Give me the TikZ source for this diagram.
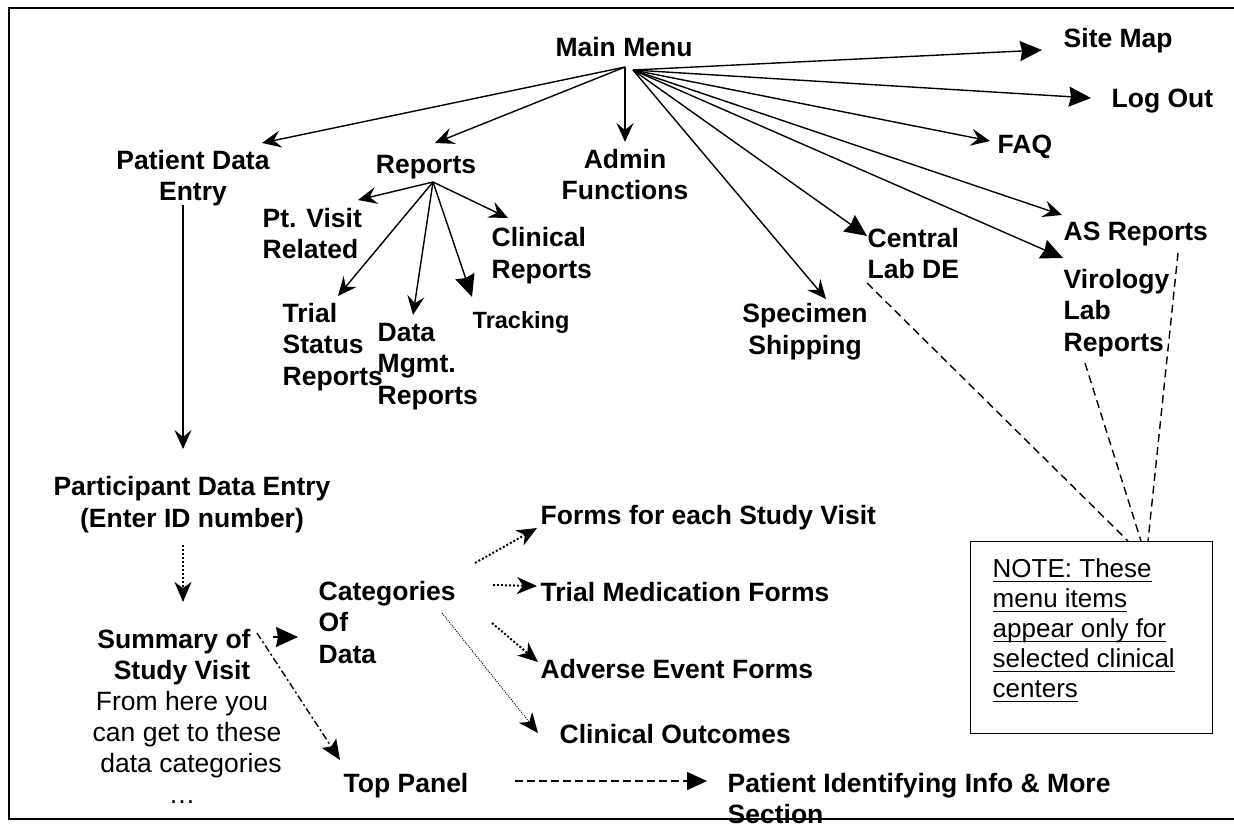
\documentclass[tikz,border=0pt]{standalone}
\usepackage{fontspec}
\setmainfont{Liberation Sans}
\usetikzlibrary{arrows.meta,calc}
\newcommand{\noteul}[1]{\setbox0\hbox{#1}\rlap{\vrule height -3.5pt depth 5pt width \wd0}\box0}
\begin{document}
\begin{tikzpicture}[x=1pt,y=-1pt, line width=1.4pt,
  lbl/.style={inner sep=0pt, font=\fontsize{26.5}{31.5}\selectfont\bfseries},
  st/.style={-{Stealth[length=19pt,width=17pt,inset=7pt]}},
  tr/.style={-{Stealth[length=22pt,width=20pt,inset=2pt]}},
  thickdot/.style={line width=2pt, dash pattern=on 2pt off 2pt},
  finedot/.style={line width=0.9pt, dash pattern=on 1pt off 1.3pt},
  dashdot/.style={dash pattern=on 7pt off 3pt on 2pt off 3pt},
  dashline/.style={dash pattern=on 8pt off 4pt},
  notedash/.style={dash pattern=on 8pt off 5pt}]
\useasboundingbox (0,0) rectangle (1234,823);
\fill[white] (0,0) rectangle (1234,823);
% frame
\draw[line width=2pt] (9,8) rectangle (1250,819);

% nodes (base anchor = baseline of the last line)
\node[lbl, anchor=base] (mm) at (624,56) {Main Menu};
\node[lbl, anchor=base, align=center] (pde) at (193,200.5) {Patient Data\\Entry};
\node[lbl, anchor=base] (rep) at (426,173) {Reports};
\node[lbl, anchor=base, align=center] (adm) at (625,199.5) {Admin\\Functions};
\node[lbl, anchor=base west, align=left] (ptv) at (262,258.5) {Pt. Visit\\Related};
\node[lbl, anchor=base west, align=left] (trial) at (282,385) {Trial\\Status\\Reports};
\node[lbl, anchor=base west, align=left] (dmg) at (377,404) {Data\\Mgmt.\\Reports};
\node[lbl, anchor=base west, font=\fontsize{23.5}{28}\selectfont\bfseries] (trk) at (472,328) {Tracking};
\node[lbl, anchor=base west, align=left] (clin) at (491,278) {Clinical\\Reports};
\node[lbl, anchor=base, align=center] (spec) at (805,354) {Specimen\\Shipping};
\node[lbl, anchor=base west, align=left] (cen) at (867,278.5) {Central\\Lab DE};
\node[lbl, anchor=base west] (site) at (1063,47) {Site Map};
\node[lbl, anchor=base west] (lo) at (1111,107) {Log Out};
\node[lbl, anchor=base west] (faq) at (997,153) {FAQ};
\node[lbl, anchor=base west] (asr) at (1063,240) {AS Reports};
\node[lbl, anchor=base west, align=left] (vir) at (1063,351) {Virology\\Lab\\Reports};
\node[lbl, anchor=base, align=center] (pden) at (192,527) {Participant Data Entry\\(Enter ID number)};
\node[lbl, anchor=base, align=center, font=\fontsize{26.5}{31}\selectfont\bfseries] (sum) at (182,803) {Summary of\hspace*{16pt}\\Study Visit\hspace*{16pt}\\\mdseries From here you\\\mdseries\hspace*{10pt}can get to these\\\mdseries\hspace*{18pt}data categories\\\mdseries \dots};
\node[lbl, anchor=base west, align=left] (cat) at (318,663) {Categories\\Of\\Data};
\node[lbl, anchor=base west] (top) at (343,792) {Top Panel};
\node[lbl, anchor=base west] (forms) at (540,524) {Forms for each Study Visit};
\node[lbl, anchor=base west] (tmf) at (540,601) {Trial Medication Forms};
\node[lbl, anchor=base west] (aef) at (540,678) {Adverse Event Forms};
\node[lbl, anchor=base west] (co) at (559,743) {Clinical Outcomes};
\node[lbl, anchor=base west, align=left] (pii) at (727,823.5) {Patient Identifying Info \& More\\Section};
\node[draw, line width=1.4pt, inner sep=0pt, minimum width=242pt, minimum height=192pt, anchor=north west] (note) at (970,541) {};
\node[inner sep=0pt, anchor=base west, align=left, font=\fontsize{26}{30}\selectfont] (notetxt) at (992,697)
  {\noteul{NOTE: These}\\\noteul{menu items}\\\noteul{appear only for}\\\noteul{selected clinical}\\\noteul{centers}};

% connector points
\coordinate (mmA) at (625,67);
\coordinate (mmB) at (633,70);
\coordinate (pdeIn) at (262,143);
\coordinate (repIn) at (435,143);
\coordinate (admIn) at (625,142);
\coordinate (siteIn) at (1042,50);
\coordinate (loIn) at (1091,98);
\coordinate (faqIn) at (990,141);
\coordinate (asrIn) at (1062,215);
\coordinate (virIn) at (1063,258);
\coordinate (cenIn) at (867,236);
\coordinate (specIn) at (826,299);
\coordinate (repOut) at (433,182);
\coordinate (ptvIn) at (358,200);
\coordinate (trialIn) at (338,296);
\coordinate (dmgIn) at (413,315);
\coordinate (trkIn) at (472,297);
\coordinate (clinIn) at (508,218);
\coordinate (pdeOut) at (183,205);
\coordinate (pdenIn) at (183,449);
\coordinate (pdenOut) at (183,545);
\coordinate (sumIn) at (183,602);
\coordinate (sumOutA) at (273,637);
\coordinate (catIn) at (298,637);
\coordinate (sumOutB) at (257,633);
\coordinate (topIn) at (340,760);
\coordinate (catOutA) at (475,563);
\coordinate (formsIn) at (537,528);
\coordinate (catOutB) at (493,585);
\coordinate (tmfIn) at (537,586);
\coordinate (catOutC) at (492,623);
\coordinate (aefIn) at (538,662);
\coordinate (catOutD) at (442,613);
\coordinate (coIn) at (538,733);
\coordinate (topOut) at (515,781);
\coordinate (piiIn) at (707,781);
\coordinate (cenOut) at (867,283);
\coordinate (virOut) at (1085,363);
\coordinate (asrOut) at (1178,253);

% main menu arrows
\draw[st] (mmA) -- (pdeIn);
\draw[st] (mmA) -- (repIn);
\draw[st] (mmA) -- (admIn);
\draw[tr] (mmB) -- (siteIn);
\draw[tr] (mmB) -- (loIn);
\draw[st] (mmB) -- (faqIn);
\draw[st] (mmB) -- (asrIn);
\draw[tr] (mmB) -- (virIn);
\draw[tr] (mmB) -- (cenIn);
\draw[st] (mmB) -- (specIn);
% reports arrows
\draw[st] (repOut) -- (ptvIn);
\draw[st] (repOut) -- (trialIn);
\draw[st] (repOut) -- (dmgIn);
\draw[tr] (repOut) -- (trkIn);
\draw[st] (repOut) -- (clinIn);
% patient data entry chain
\draw[st] (pdeOut) -- (pdenIn);
\draw[thickdot, -{Stealth[length=20pt,width=17pt,inset=6pt]}] (pdenOut) -- (sumIn);
\draw[tr] (sumOutA) -- (catIn);
\draw[dashdot, -{Stealth[length=20pt,width=17pt,inset=4pt]}] (sumOutB) -- (topIn);
\draw[thickdot, -{Stealth[length=20pt,width=17pt,inset=6pt]}] (catOutA) -- (formsIn);
\draw[thickdot, -{Stealth[length=20pt,width=17pt,inset=6pt]}] (catOutB) -- (tmfIn);
\draw[thickdot, -{Stealth[length=20pt,width=17pt,inset=6pt]}] (catOutC) -- (aefIn);
\draw[finedot, -{Stealth[length=20pt,width=17pt,inset=6pt]}] (catOutD) -- (coIn);
\draw[dashline, -{Stealth[length=20pt,width=18pt,inset=0pt]}] (topOut) -- (piiIn);
% note links
\draw[notedash] (cenOut) -- ($(note.north west)+(158,0)$);
\draw[notedash] (virOut) -- ($(note.north west)+(171,0)$);
\draw[notedash] (asrOut) -- ($(note.north west)+(178,0)$);
\end{tikzpicture}
\end{document}
